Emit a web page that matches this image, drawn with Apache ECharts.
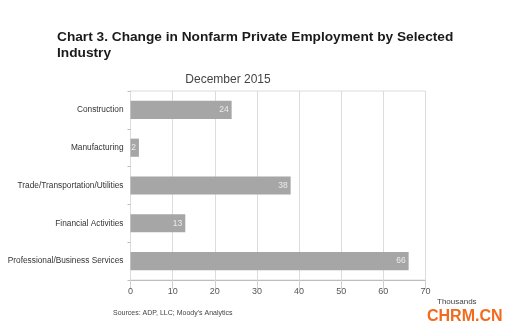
<!DOCTYPE html>
<html>
<head>
<meta charset="utf-8">
<script src="https://cdn.jsdelivr.net/npm/echarts@6/dist/echarts.min.js"></script>
<style>
  html, body { margin: 0; padding: 0; background: #fff; }
  #chart { width: 514px; height: 334px; }
</style>
</head>
<body>
<div id="chart"></div>
<script>
// Change in nonfarm private employment, December 2015 (thousands)
const industries = [
  'Construction',
  'Manufacturing',
  'Trade/Transportation/Utilities',
  'Financial Activities',
  'Professional/Business Services'
];
const jobChange = [24, 2, 38, 13, 66];
const xTicks = [0, 10, 20, 30, 40, 50, 60, 70];

const chart = echarts.init(document.getElementById('chart'), null, { renderer: 'canvas' });

chart.setOption({
  backgroundColor: '#ffffff',
  animation: false,
  title: [
    {
      text: 'Chart 3. Change in Nonfarm Private Employment by Selected\nIndustry',
      left: 57, top: 29, padding: 0,
      textStyle: { fontFamily: 'Liberation Sans', fontWeight: 'bold', fontSize: 13.7, color: '#1a1a1a', lineHeight: 16 }
    },
    {
      text: 'December 2015',
      left: 228, top: 74, padding: 0, textAlign: 'center',
      textStyle: { fontFamily: 'Liberation Sans', fontWeight: 'normal', fontSize: 12, color: '#444' }
    }
  ],
  grid: { left: 130.5, top: 91, width: 295, height: 189, containLabel: false, show: true, borderColor: '#dcdcdc', borderWidth: 1 },
  xAxis: {
    type: 'value',
    min: 0, max: 70, interval: 10,
    axisLine: { show: true, lineStyle: { color: '#bdbdbd' } },
    axisTick: { show: true, length: 9, lineStyle: { color: '#d0d0d0' } },
    splitLine: { show: true, lineStyle: { color: '#dcdcdc' } },
    axisLabel: {
      margin: 7, fontFamily: 'Liberation Sans', fontSize: 9, color: '#555',
      formatter: v => xTicks.includes(v) ? String(v) : ''
    }
  },
  yAxis: {
    type: 'category',
    data: industries,
    inverse: true,
    axisLine: { show: true, lineStyle: { color: '#dcdcdc' } },
    axisTick: { show: true, length: 3, lineStyle: { color: '#bdbdbd' } },
    axisLabel: { margin: 7, fontFamily: 'Liberation Sans', fontSize: 8.3, color: '#333' }
  },
  series: [{
    type: 'bar',
    data: jobChange,
    barCategoryGap: '52%',
    itemStyle: { color: '#a6a6a6' },
    label: {
      show: true, position: 'insideRight', distance: 3,
      fontFamily: 'Liberation Sans', fontSize: 8.5, color: '#ececec'
    }
  }],
  graphic: [
    { type: 'text', left: 437, top: 298, style: { text: 'Thousands', font: '8px "Liberation Sans"', fill: '#444' } },
    { type: 'text', left: 113, top: 310, style: { text: "Sources: ADP, LLC; Moody's Analytics", font: '7px "Liberation Sans"', fill: '#444' } },
    { type: 'text', left: 427, top: 309, style: { text: 'CHRM.CN', font: 'bold 16px "Liberation Sans"', fill: '#f26b1d' } }
  ]
});
</script>
</body>
</html>
